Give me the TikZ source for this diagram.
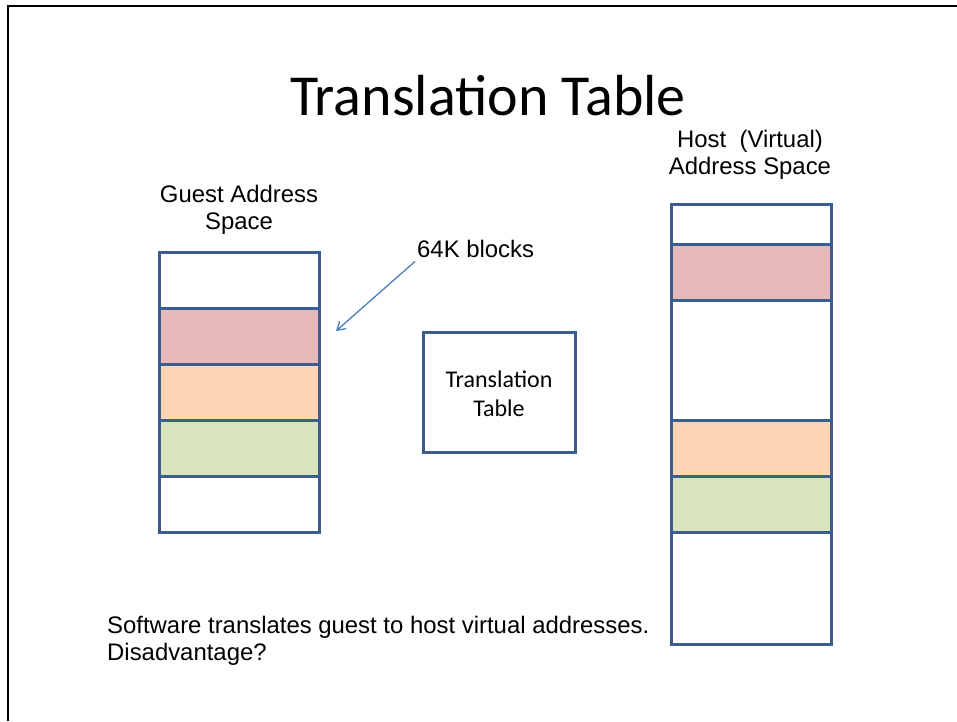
\documentclass[tikz,border=0pt]{standalone}
\usepackage{fontspec}
\setmainfont{Liberation Sans}
\newfontfamily\calibri{Carlito}
\usetikzlibrary{arrows.meta}
\definecolor{edge}{RGB}{61,94,140}
\definecolor{rose}{RGB}{230,185,184}
\definecolor{peach}{RGB}{252,213,181}
\definecolor{sage}{RGB}{215,228,189}
\definecolor{pointer}{RGB}{74,126,187}
\begin{document}
\begin{tikzpicture}[x=1pt,y=-1pt,
  cell/.style={draw=edge, line width=3pt, minimum width=160pt, inner sep=0pt, outer sep=0pt},
  txt/.style={font=\fontsize{23.9}{28}\selectfont, inner sep=0pt, anchor=base},
  ctxt/.style={font=\calibri\fontsize{24}{29}\selectfont, inner sep=0pt, align=center},
  ]
\useasboundingbox (0,0) rectangle (957,721);
% slide frame
\draw[line width=2.5pt] (8,721) -- (8,6) -- (957,6);

% title
\node[font=\calibri\fontsize{58}{68}\selectfont, anchor=base, inner sep=0pt] (title) at (488,115) {Translation Table};

% guest address space
\node[txt] (guestA) at (239,202) {Guest Address};
\node[txt] (guestB) at (239,229) {Space};
\node[cell, minimum height=56pt] (g1) at (239,280) {};
\node[cell, minimum height=56pt, fill=rose] (g2) at (239,336) {};
\node[cell, minimum height=56pt, fill=peach] (g3) at (239,392) {};
\node[cell, minimum height=56pt, fill=sage] (g4) at (239,448) {};
\node[cell, minimum height=56pt] (g5) at (239,504) {};

% host address space
\node[txt] (hostA) at (750,147) {Host\ \ (Virtual)};
\node[txt] (hostB) at (750,174) {Address Space};
\node[cell, minimum height=40pt] (h1) at (751,224) {};
\node[cell, minimum height=56pt, fill=rose] (h2) at (751,272) {};
\node[cell, minimum height=120pt] (h3) at (751,360) {};
\node[cell, minimum height=56pt, fill=peach] (h4) at (751,448) {};
\node[cell, minimum height=56pt, fill=sage] (h5) at (751,504) {};
\node[cell, minimum height=112pt] (h6) at (751,588) {};

% translation table
\node[cell, minimum width=152pt, minimum height=120pt] (ttab) at (499,392) {};
\node[ctxt] (ttabtext) at (499,394) {Translation\\Table};

% block size callout
\node[txt, anchor=base west] (blk64) at (417,257) {64K blocks};
\coordinate (blkTip) at (336,331);
\draw[pointer, line width=1.3pt, -{Straight Barb[length=8pt,width=10pt]}]
  ([shift={(-2,4)}]blk64.south west) -- (blkTip);

% notes
\node[txt, anchor=base west] (noteA) at (107,633) {Software translates guest to host virtual addresses.};
\node[txt, anchor=base west] (noteB) at (107,660) {Disadvantage?};
\end{tikzpicture}
\end{document}
